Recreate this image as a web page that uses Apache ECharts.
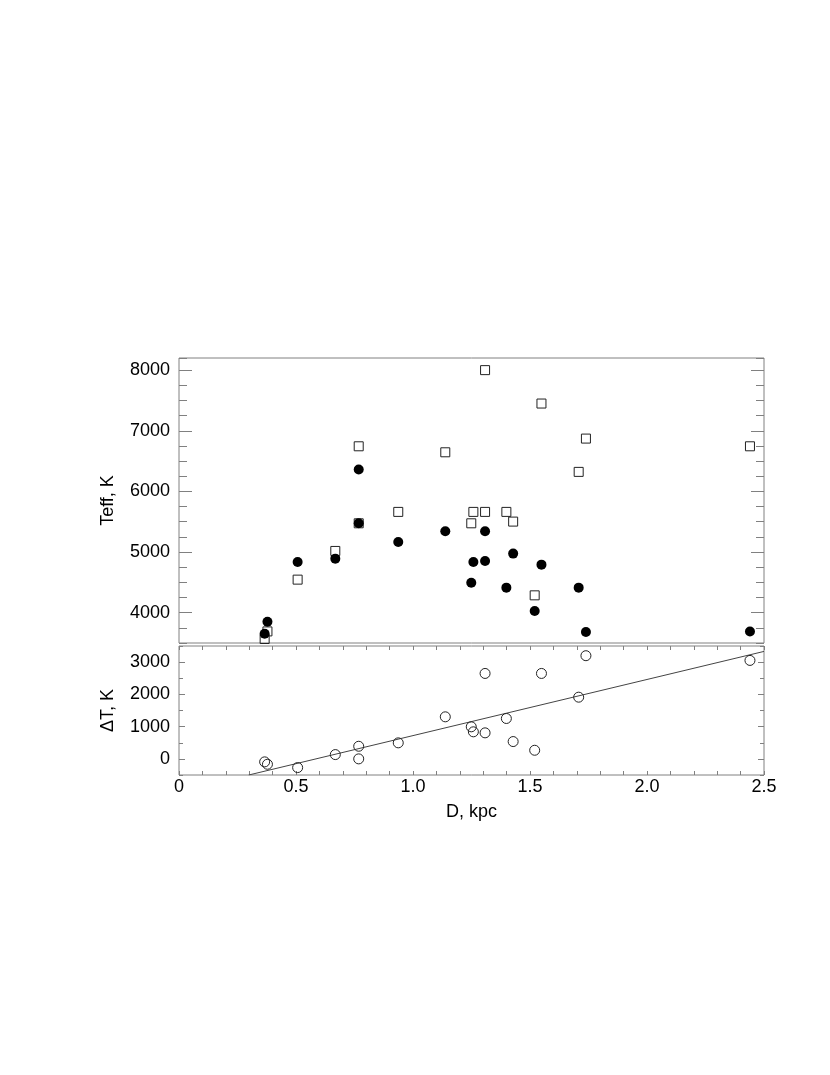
<!DOCTYPE html>
<html><head><meta charset="utf-8">
<script src="https://cdn.jsdelivr.net/npm/echarts@6/dist/echarts.min.js"></script>
<style>html,body{margin:0;padding:0;background:#fff}#c{width:830px;height:1075px}</style>
</head><body><div id="c"></div>
<script>
// Distance, kpc
const distance = [0.366,0.378,0.507,0.668,0.768,0.768,0.937,1.138,1.249,1.258,1.308,1.308,1.399,1.428,1.520,1.549,1.708,1.739,2.440];
// Teff (filled circles)
const teffCircle = [3653,3851,4837,4891,6360,5474,5167,5342,4495,4837,5342,4853,4413,4974,4028,4792,4413,3681,3691];
// Teff (open squares)
const teffSquare = [3566,3691,4545,5018,6744,5474,5662,6645,5474,5662,8000,5662,5662,5502,4286,7449,6322,6871,6744];
// Delta T (open circles, lower panel)
const deltaT = [-93,-167,-270,133,391,0,497,1304,994,839,2649,807,1252,537,267,2649,1913,3199,3053];
// Linear fit endpoints
const fitD = [0.298, 2.5];
const fitDeltaT = [-500, 3332];
// Tick labels
const teffTicks = [4000,5000,6000,7000,8000];
const deltaTicks = [0,1000,2000,3000];
const dTickLabels = ['0','0.5','1.0','1.5','2.0','2.5'];

const FONT = "'Liberation Sans', Arial, sans-serif";
const GRAY = '#808080';
const FS = 18;

const pair = (xs, ys) => xs.map((x, i) => [x, ys[i]]);

function yAxes(gridIndex, min, max, minorInt, ticks, majorLen, minorLen, name, nameGap) {
  const base = {
    gridIndex, type: 'value', min, max,
    axisLine: { show: false, onZero: false },
    splitLine: { show: false }
  };
  const major = (pos, label) => Object.assign({}, base, {
    position: pos,
    axisTick: { show: true, inside: true, length: majorLen, customValues: ticks, lineStyle: { color: GRAY } },
    axisLabel: label ? { show: true, customValues: ticks, margin: 9, color: '#000', fontSize: FS, fontFamily: FONT,
      formatter: v => String(v) } : { show: false },
    name: label ? name : '',
    nameLocation: 'middle', nameGap: nameGap, nameRotate: 90,
    nameTextStyle: { color: '#000', fontSize: FS, fontFamily: FONT }
  });
  const minor = (pos) => Object.assign({}, base, {
    position: pos, interval: minorInt,
    axisTick: { show: true, inside: true, length: minorLen, lineStyle: { color: GRAY } },
    axisLabel: { show: false }
  });
  return [major('left', true), minor('left'), major('right', false), minor('right')];
}

const option = {
  animation: false,
  backgroundColor: '#fff',
  grid: [
    { left: 179, top: 358, width: 585, height: 285, show: true, borderColor: GRAY, borderWidth: 1, backgroundColor: 'transparent' },
    { left: 179, top: 646, width: 585, height: 129, show: true, borderColor: GRAY, borderWidth: 1, backgroundColor: 'transparent' }
  ],
  xAxis: [
    { gridIndex: 0, type: 'value', min: 0, max: 2.5, show: false },
    { gridIndex: 1, type: 'value', min: 0, max: 2.5, interval: 0.1, position: 'bottom',
      axisLine: { show: false, onZero: false }, splitLine: { show: false },
      axisTick: { show: true, inside: true, length: 4, lineStyle: { color: GRAY } },
      axisLabel: { show: true, margin: 3, color: '#000', fontSize: FS, fontFamily: FONT,
        formatter: v => { const i = Math.round(v * 10); return i % 5 === 0 ? dTickLabels[i / 5] : ''; } },
      name: 'D, kpc', nameLocation: 'middle', nameGap: 28,
      nameTextStyle: { color: '#000', fontSize: FS, fontFamily: FONT } },
    { gridIndex: 1, type: 'value', min: 0, max: 2.5, interval: 0.1, position: 'top',
      axisLine: { show: false, onZero: false }, splitLine: { show: false },
      axisTick: { show: true, inside: true, length: 4, lineStyle: { color: GRAY } },
      axisLabel: { show: false } }
  ],
  yAxis: [
    ...yAxes(0, 3500, 8200, 250, teffTicks, 13, 8, 'Teff, K', 62),
    ...yAxes(1, -500, 3500, 500, deltaTicks, 6, 4, '\u0394T, K', 62)
  ],
  series: [
    { type: 'scatter', xAxisIndex: 0, yAxisIndex: 0, clip: true, symbol: 'rect', symbolSize: 9,
      itemStyle: { color: 'rgba(255,255,255,0)', borderColor: '#222', borderWidth: 1, opacity: 1 },
      data: pair(distance, teffSquare), z: 2 },
    { type: 'scatter', xAxisIndex: 0, yAxisIndex: 0, clip: true, symbol: 'circle', symbolSize: 10,
      itemStyle: { color: '#000', opacity: 1 },
      data: pair(distance, teffCircle), z: 3 },
    { type: 'line', xAxisIndex: 1, yAxisIndex: 4, clip: true, symbol: 'none',
      lineStyle: { color: '#444', width: 1 },
      data: pair(fitD, fitDeltaT), z: 2 },
    { type: 'scatter', xAxisIndex: 1, yAxisIndex: 4, clip: true, symbol: 'circle', symbolSize: 10,
      itemStyle: { color: 'rgba(255,255,255,0)', borderColor: '#222', borderWidth: 1, opacity: 1 },
      data: pair(distance, deltaT), z: 3 }
  ]
};

const chart = echarts.init(document.getElementById('c'), null, { renderer: 'canvas' });
chart.setOption(option);
</script>
</body></html>
